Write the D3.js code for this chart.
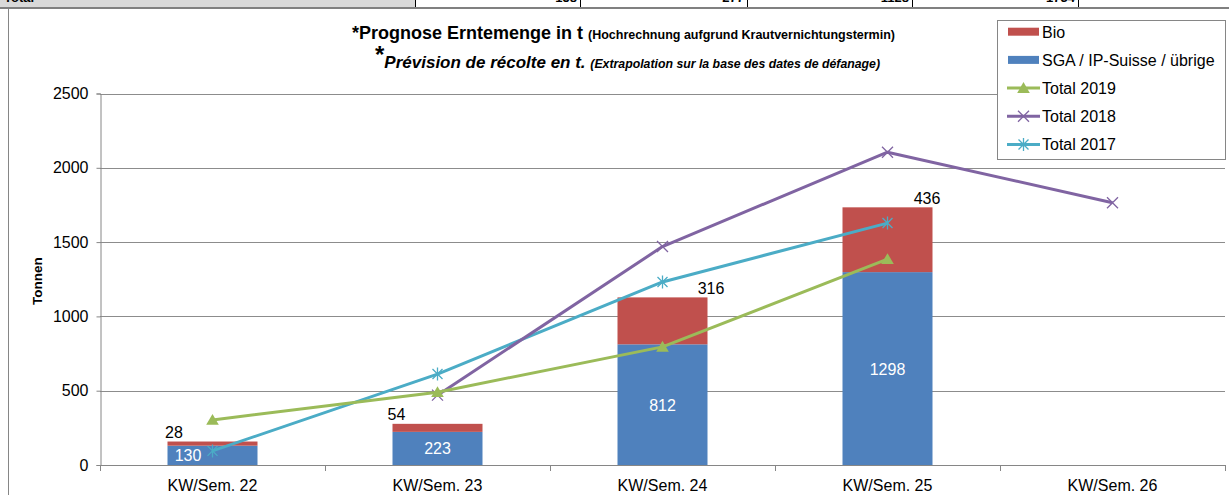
<!DOCTYPE html>
<html>
<head>
<meta charset="utf-8">
<script src="https://cdn.jsdelivr.net/npm/d3@7"></script>
<style>
  body { margin: 0; background: #fff; }
  svg { display: block; font-family: "Liberation Sans", Arial, sans-serif; }
</style>
</head>
<body>
<div id="chart"></div>
<script>
// data
var weeks = ['KW/Sem. 22', 'KW/Sem. 23', 'KW/Sem. 24', 'KW/Sem. 25', 'KW/Sem. 26'];
var sga = [130, 223, 812, 1298, null];
var bio = [28, 54, 316, 436, null];
var total2019 = [303, 490, 795, 1385, null];
var total2018 = [null, 470, 1470, 2105, 1765];
var total2017 = [95, 612, 1232, 1628, null];
var yTicks = [0, 500, 1000, 1500, 2000, 2500];
var tableRow = ['Total', '158', '277', '1128', '1734'];

var W = 1229, H = 495;
var FONT = '"Liberation Sans", Arial, sans-serif';
var C = { bio: '#C0504D', sga: '#4F81BD', y2019: '#9BBB59', y2018: '#8064A2', y2017: '#4BACC6', axis: '#868686', grid: '#8c8c8c' };

var svg = d3.select('#chart').append('svg').attr('width', W).attr('height', H);

// table row cut at top of the picture
var cells = [0, 415, 580, 747, 912, 1078, W];
svg.append('rect').attr('x', 0).attr('y', -20).attr('width', cells[1]).attr('height', 27).attr('fill', '#d9d9d9');
cells.slice(1, 6).forEach(function(cx) {
  svg.append('line').attr('x1', cx + 0.5).attr('x2', cx + 0.5).attr('y1', 0).attr('y2', 7).attr('stroke', '#000').attr('stroke-width', 1);
});
tableRow.forEach(function(t, i) {
  svg.append('text')
    .attr('x', i === 0 ? 4 : cells[i + 1] - 3).attr('y', 2)
    .attr('text-anchor', i === 0 ? 'start' : 'end')
    .attr('font-size', '13px').attr('font-weight', 'bold').attr('fill', '#000')
    .text(t);
});
svg.append('line').attr('x1', 0).attr('x2', W).attr('y1', 8).attr('y2', 8).attr('stroke', '#808080').attr('stroke-width', 2);
// chart frame left border
svg.append('line').attr('x1', 8.5).attr('x2', 8.5).attr('y1', 9).attr('y2', H).attr('stroke', C.axis).attr('stroke-width', 1);

// scales
var x = d3.scaleBand().domain(weeks).range([100, 1225]).padding(0);
var y = d3.scaleLinear().domain([0, 2500]).range([465, 93.5]);
var step = x.step();
var bw = step * 0.4;
var cxOf = function(i) { return x(weeks[i]) + step / 2; };

var g = svg.append('g');

// grid
g.append('g').selectAll('line').data(yTicks.slice(1)).join('line')
  .attr('x1', 100).attr('x2', 1225)
  .attr('y1', function(d) { return Math.round(y(d)) + 0.5; }).attr('y2', function(d) { return Math.round(y(d)) + 0.5; })
  .attr('stroke', C.grid).attr('stroke-width', 1);

// y axis
g.append('g').attr('transform', 'translate(100.5,0)')
  .call(d3.axisLeft(y).tickValues(yTicks).tickSize(4).tickPadding(8).tickFormat(d3.format('d')))
  .call(function(a) { a.select('.domain').attr('stroke', C.axis); })
  .call(function(a) { a.selectAll('.tick line').attr('stroke', C.axis); })
  .call(function(a) { a.selectAll('.tick text').attr('fill', '#000').attr('font-size', '16px').attr('font-family', FONT); });

// y label
svg.append('text').attr('transform', 'translate(42,281) rotate(-90)')
  .attr('text-anchor', 'middle').attr('font-size', '13.5px').attr('font-weight', 'bold').attr('font-family', FONT)
  .text('Tonnen');

// bars
weeks.forEach(function(wk, i) {
  if (sga[i] == null) return;
  var x0 = cxOf(i) - bw / 2;
  g.append('rect').attr('x', x0).attr('width', bw)
    .attr('y', y(sga[i])).attr('height', y(0) - y(sga[i])).attr('fill', C.sga);
  g.append('rect').attr('x', x0).attr('width', bw)
    .attr('y', y(sga[i] + bio[i])).attr('height', y(sga[i]) - y(sga[i] + bio[i])).attr('fill', C.bio);
});

// x axis
g.append('line').attr('x1', 100).attr('x2', 1225).attr('y1', 465.5).attr('y2', 465.5).attr('stroke', C.axis);
g.append('g').selectAll('line').data(d3.range(weeks.length + 1)).join('line')
  .attr('x1', function(i) { return Math.round(100 + i * step) + 0.5; })
  .attr('x2', function(i) { return Math.round(100 + i * step) + 0.5; })
  .attr('y1', 465).attr('y2', 471).attr('stroke', C.axis);
g.append('g').selectAll('text').data(weeks).join('text')
  .attr('x', function(d, i) { return cxOf(i); }).attr('y', 491)
  .attr('text-anchor', 'middle').attr('font-size', '16px').attr('fill', '#000')
  .text(function(d) { return d; });

// lines
var line = d3.line()
  .defined(function(d) { return d != null; })
  .x(function(d, i) { return cxOf(i); })
  .y(function(d) { return y(d); });

function marker(sel, type, color, s) {
  if (type === 'tri') {
    sel.append('path').attr('d', 'M0,' + (-s) + 'L' + (s * 1.05) + ',' + (s * 0.8) + 'L' + (-s * 1.05) + ',' + (s * 0.8) + 'Z').attr('fill', color);
  } else {
    var p = 'M' + (-s) + ',' + (-s) + 'L' + s + ',' + s + 'M' + (-s) + ',' + s + 'L' + s + ',' + (-s);
    if (type === 'star') p += 'M0,' + (-s * 1.3) + 'L0,' + (s * 1.3);
    sel.append('path').attr('d', p).attr('stroke', color).attr('stroke-width', 1.3).attr('fill', 'none');
  }
}

var series = [
  { name: 'Total 2019', vals: total2019, color: C.y2019, m: 'tri', ms: 6 },
  { name: 'Total 2018', vals: total2018, color: C.y2018, m: 'x', ms: 5.5 },
  { name: 'Total 2017', vals: total2017, color: C.y2017, m: 'star', ms: 5 }
];
// draw order: 2017 under 2018 under 2019
[series[2], series[1], series[0]].forEach(function(s) {
  g.append('path').datum(s.vals).attr('d', line)
    .attr('fill', 'none').attr('stroke', s.color).attr('stroke-width', 3).attr('stroke-linejoin', 'round');
  s.vals.forEach(function(v, i) {
    if (v == null) return;
    marker(g.append('g').attr('transform', 'translate(' + cxOf(i) + ',' + y(v) + ')'), s.m, s.color, s.ms);
  });
});

// data labels
var bioDx = [-38.5, -41, 48.5, 39.5];
var sgaDx = [-24.5, 0, 0, 0];
weeks.forEach(function(wk, i) {
  if (sga[i] == null) return;
  var cx = cxOf(i);
  g.append('text').attr('x', cx + sgaDx[i]).attr('y', y(sga[i] / 2) + 6)
    .attr('text-anchor', 'middle').attr('font-size', '16px').attr('fill', '#fff').text(sga[i]);
  g.append('text').attr('x', cx + bioDx[i]).attr('y', y(sga[i] + bio[i]) - 3.5)
    .attr('text-anchor', 'middle').attr('font-size', '16px').attr('fill', '#000').text(bio[i]);
});

// title
var t1 = svg.append('text').attr('x', 352).attr('y', 39).attr('font-weight', 'bold').attr('fill', '#000');
t1.append('tspan').attr('font-size', '18px').text('*Prognose Erntemenge in t ');
t1.append('tspan').attr('font-size', '12.5px').text('(Hochrechnung aufgrund Krautvernichtungstermin)');
var t2 = svg.append('text').attr('x', 375).attr('y', 68).attr('font-weight', 'bold').attr('fill', '#000');
t2.append('tspan').attr('font-size', '24px').attr('dy', -5).text('*');
t2.append('tspan').attr('font-size', '17px').attr('font-style', 'italic').attr('dy', 5).text('Prévision de récolte en t. ');
t2.append('tspan').attr('font-size', '12.3px').attr('font-style', 'italic').text('(Extrapolation sur la base des dates de défanage)');

// legend
var lg = svg.append('g').attr('transform', 'translate(997,20)');
lg.append('rect').attr('x', 0.5).attr('y', 0.5).attr('width', 228).attr('height', 139).attr('fill', '#fff').attr('stroke', C.axis);
var legendItems = [
  { name: 'Bio', color: C.bio, type: 'rect' },
  { name: 'SGA / IP-Suisse / übrige', color: C.sga, type: 'rect' }
].concat(series.map(function(s) { return { name: s.name, color: s.color, type: 'line', m: s.m, ms: s.ms }; }));
legendItems.forEach(function(it, i) {
  var ly = 11.7 + i * 28.2;
  if (it.type === 'rect') {
    lg.append('rect').attr('x', 11).attr('y', ly - 4).attr('width', 31).attr('height', 8).attr('fill', it.color);
  } else {
    lg.append('line').attr('x1', 10).attr('x2', 43).attr('y1', ly).attr('y2', ly).attr('stroke', it.color).attr('stroke-width', 3);
    marker(lg.append('g').attr('transform', 'translate(26.5,' + ly + ')'), it.m, it.color, it.ms);
  }
  lg.append('text').attr('x', 45).attr('y', ly + 5.8).attr('font-size', '16px').attr('fill', '#000').text(it.name);
});
</script>
</body>
</html>
